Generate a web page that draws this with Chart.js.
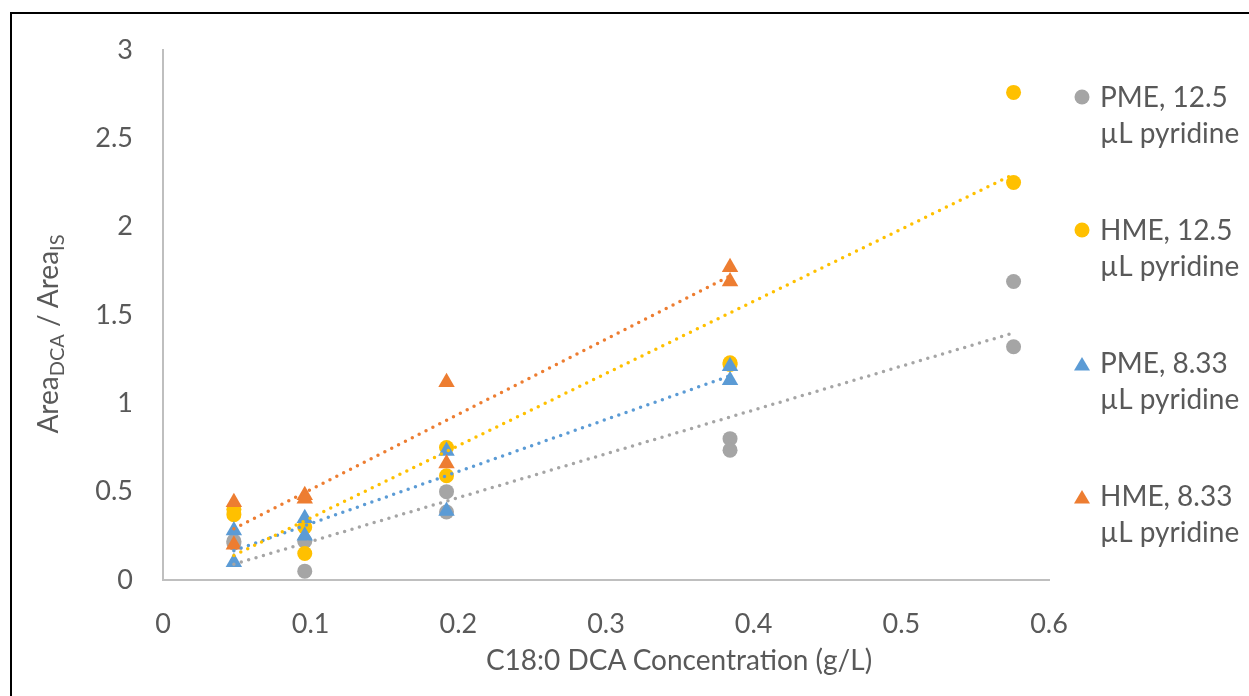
<!DOCTYPE html>
<html>
<head>
<meta charset="utf-8">
<script src="https://cdn.jsdelivr.net/npm/chart.js@4.4.1/dist/chart.umd.min.js"></script>
<style>
  html, body { margin: 0; padding: 0; background: #fff; overflow: hidden; }
  #wrap { position: relative; width: 1249px; height: 696px; overflow: hidden; }
  #frame { position: absolute; left: 10px; top: 12px; width: 1400px; height: 800px;
           border-top: 2px solid #000; border-left: 2px solid #000; }
  canvas { position: absolute; left: 0; top: 0; }
  .title { position: absolute; font-family: Lato, sans-serif; font-size: 28px; color: #595959;
           line-height: 36px; white-space: nowrap; text-align: center; }
  #ytitle { width: 400px; left: -153px; top: 316px; transform: rotate(-90deg); }
  #ytitle sub { font-size: 20px; vertical-align: -6px; line-height: 0; }
  #xtitle { width: 600px; left: 379px; top: 641px; }
</style>
</head>
<body>
<div id="wrap">
  <div id="frame"></div>
  <canvas id="chart" width="1249" height="696"></canvas>
  <div class="title" id="ytitle">Area<sub>DCA</sub> / Area<sub>IS</sub></div>
  <div class="title" id="xtitle">C18:0 DCA Concentration (g/L)</div>
</div>
<script>
// concentrations, two replicates each
const concentration = [0.048, 0.048, 0.096, 0.096, 0.192, 0.192, 0.384, 0.384, 0.576, 0.576];

const pme125 = [0.22, 0.21, 0.05, 0.22, 0.50, 0.385, 0.80, 0.735, 1.69, 1.32];
const hme125 = [0.37, 0.40, 0.15, 0.30, 0.75, 0.59, 1.23, 1.22, 2.76, 2.25];
const pme833 = [0.28, 0.10, 0.35, 0.25, 0.73, 0.39, 1.21, 1.13];
const hme833 = [0.44, 0.20, 0.48, 0.46, 1.12, 0.66, 1.77, 1.69];

const seriesNames = [
  ['PME, 12.5', 'µL pyridine'],
  ['HME, 12.5', 'µL pyridine'],
  ['PME, 8.33', 'µL pyridine'],
  ['HME, 8.33', 'µL pyridine']
];
const seriesColors = ['#A5A5A5', '#FFC000', '#5B9BD5', '#ED7D31'];
const seriesShapes = ['circle', 'circle', 'triangle', 'triangle'];

const xTicks = ['0', '0.1', '0.2', '0.3', '0.4', '0.5', '0.6'];
const yTicks = ['0', '0.5', '1', '1.5', '2', '2.5', '3'];

const textColor = '#595959';
const font = 'Lato, sans-serif';

function toPoints(ys) {
  return ys.map((y, i) => ({ x: concentration[i], y: y }));
}

// least squares trendline, from the smallest to the largest x of the series
function trendline(ys) {
  const xs = concentration.slice(0, ys.length);
  const n = ys.length;
  const mx = xs.reduce((a, b) => a + b, 0) / n;
  const my = ys.reduce((a, b) => a + b, 0) / n;
  let sxy = 0, sxx = 0;
  for (let i = 0; i < n; i++) {
    sxy += (xs[i] - mx) * (ys[i] - my);
    sxx += (xs[i] - mx) * (xs[i] - mx);
  }
  const slope = sxy / sxx;
  const x0 = Math.min(...xs), x1 = Math.max(...xs);
  return [
    { x: x0, y: my + slope * (x0 - mx) },
    { x: x1, y: my + slope * (x1 - mx) }
  ];
}

const allSeries = [pme125, hme125, pme833, hme833];
const datasets = [];

allSeries.forEach((ys, i) => {
  datasets.push({
    label: seriesNames[i].join(' '),
    data: toPoints(ys),
    pointStyle: seriesShapes[i],
    pointRadius: seriesShapes[i] === 'circle' ? 7.5 : 9.5,
    pointHoverRadius: seriesShapes[i] === 'circle' ? 7.5 : 9.5,
    backgroundColor: seriesColors[i],
    borderWidth: 0,
    order: 4 - i
  });
});

allSeries.forEach((ys, i) => {
  datasets.push({
    label: 'trend ' + i,
    data: trendline(ys),
    showLine: true,
    borderColor: seriesColors[i],
    borderWidth: 3.5,
    borderDash: [0, 7.7],
    borderCapStyle: 'round',
    pointRadius: 0,
    order: 0
  });
});

// legend on the right, two lines per entry
const sideLegend = {
  id: 'sideLegend',
  afterDraw(chart) {
    const ctx = chart.ctx;
    ctx.save();
    ctx.font = '28px ' + font;
    ctx.fillStyle = textColor;
    ctx.textBaseline = 'alphabetic';
    seriesNames.forEach((lines, i) => {
      const base = 107 + i * 133;
      const mx = 1082;
      ctx.fillStyle = seriesColors[i];
      ctx.beginPath();
      if (seriesShapes[i] === 'circle') {
        ctx.arc(mx, base - 10, 7.5, 0, Math.PI * 2);
      } else {
        const cy = base - 9;
        ctx.moveTo(mx, cy - 7);
        ctx.lineTo(mx + 8, cy + 6.5);
        ctx.lineTo(mx - 8, cy + 6.5);
        ctx.closePath();
      }
      ctx.fill();
      ctx.fillStyle = textColor;
      lines.forEach((t, j) => ctx.fillText(t, 1100, base + j * 36));
    });
    ctx.restore();
  }
};

new Chart(document.getElementById('chart'), {
  type: 'scatter',
  data: { datasets: datasets },
  options: {
    responsive: false,
    animation: false,
    layout: { padding: { left: 0, top: 50, right: 200, bottom: 0 } },
    plugins: {
      legend: { display: false },
      tooltip: { enabled: false }
    },
    scales: {
      x: {
        type: 'linear',
        min: 0,
        max: 0.6,
        afterFit: (s) => { s.height = 116; },
        grid: { display: false, drawTicks: false },
        border: { display: true, color: '#BFBFBF', width: 2 },
        ticks: {
          stepSize: 0.1,
          padding: 28,
          color: textColor,
          font: { family: font, size: 27 },
          callback: (v, i) => xTicks[i]
        }
      },
      y: {
        min: 0,
        max: 3,
        afterFit: (s) => { s.width = 163; },
        grid: { display: false, drawTicks: false },
        border: { display: true, color: '#BFBFBF', width: 2 },
        ticks: {
          stepSize: 0.5,
          padding: 30,
          color: textColor,
          font: { family: font, size: 27 },
          callback: (v, i) => yTicks[i]
        }
      }
    }
  },
  plugins: [sideLegend]
});
</script>
</body>
</html>
